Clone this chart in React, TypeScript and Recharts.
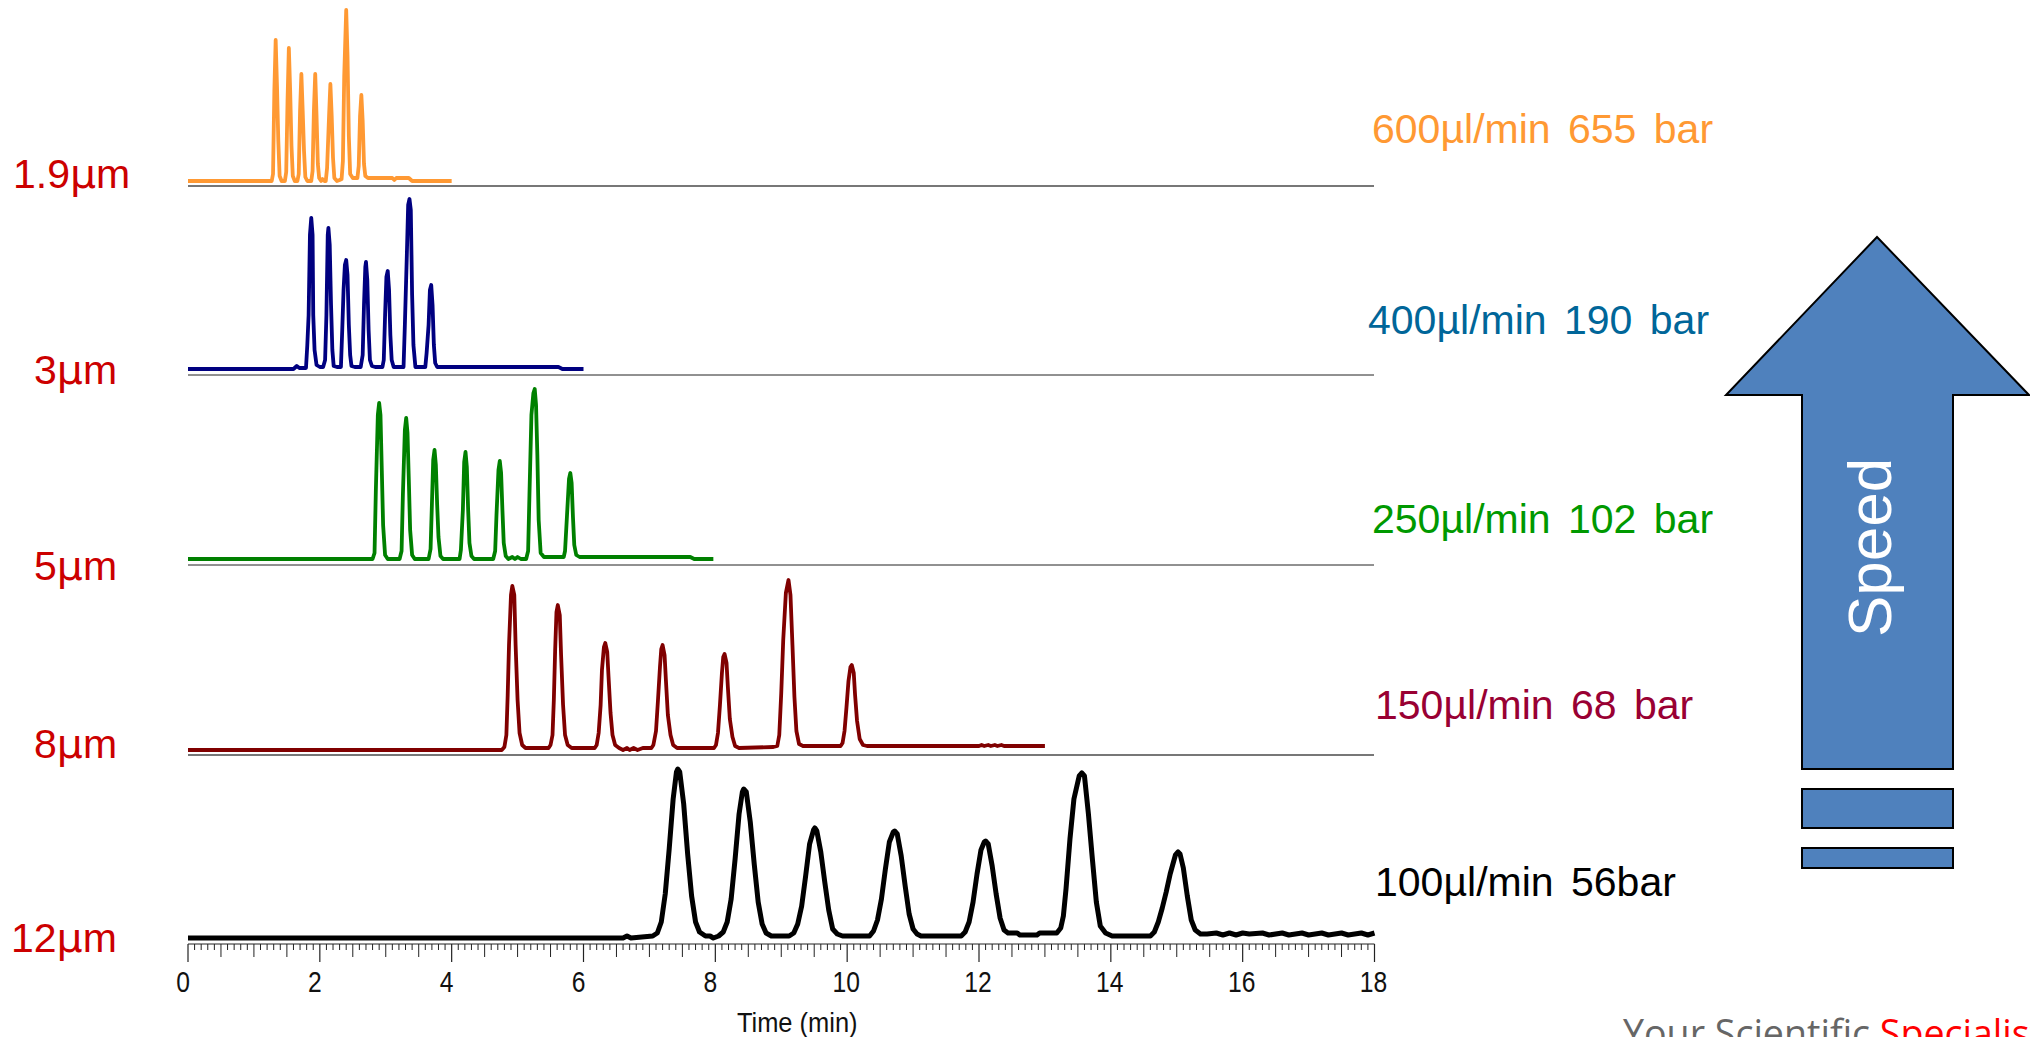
import React from 'react';
import { LineChart, Line, XAxis, YAxis, ReferenceLine, Label } from 'recharts';

// signal = height above the panel floor
const orangeTime = [0, 1.27, 1.29, 1.31, 1.33, 1.35, 1.37, 1.39, 1.42, 1.47, 1.49, 1.51, 1.53, 1.55, 1.57, 1.59, 1.62, 1.66, 1.68, 1.70, 1.72, 1.74, 1.76, 1.78, 1.81, 1.87, 1.89, 1.91, 1.93, 1.95, 1.97, 1.99, 2.02, 2.04, 2.07, 2.09, 2.11, 2.14, 2.16, 2.18, 2.20, 2.22, 2.26, 2.30, 2.33, 2.35, 2.37, 2.40, 2.42, 2.44, 2.46, 2.50, 2.57, 2.59, 2.61, 2.63, 2.65, 2.67, 2.69, 2.73, 3.10, 3.13, 3.16, 3.35, 3.40, 4.0];
const orangeSignal = [5, 5, 12, 95, 146, 100, 45, 10, 5, 5, 14, 85, 138, 95, 40, 10, 5, 5, 12, 75, 112, 75, 35, 9, 5, 5, 15, 75, 112, 70, 22, 8, 5, 7, 5, 5, 18, 70, 102, 70, 28, 8, 5, 6, 7, 25, 110, 176, 130, 50, 12, 8, 8, 20, 70, 91, 65, 22, 10, 8, 8, 6, 8, 8, 5, 5];

const navyTime = [0, 1.6, 1.65, 1.69, 1.79, 1.81, 1.83, 1.85, 1.87, 1.89, 1.90, 1.92, 1.95, 2.0, 2.05, 2.08, 2.10, 2.12, 2.13, 2.15, 2.17, 2.19, 2.21, 2.26, 2.32, 2.34, 2.36, 2.38, 2.40, 2.42, 2.44, 2.46, 2.48, 2.53, 2.62, 2.65, 2.67, 2.69, 2.70, 2.72, 2.74, 2.76, 2.79, 2.84, 2.95, 2.97, 2.99, 3.01, 3.03, 3.05, 3.07, 3.09, 3.12, 3.2, 3.27, 3.29, 3.32, 3.34, 3.36, 3.38, 3.40, 3.42, 3.45, 3.55, 3.60, 3.62, 3.65, 3.67, 3.69, 3.71, 3.73, 3.75, 3.78, 5.62, 5.68, 6.0];
const navySignal = [6, 6, 9, 7, 7, 30, 60, 140, 157, 140, 60, 25, 10, 8, 8, 15, 60, 140, 147, 130, 70, 25, 9, 8, 8, 45, 85, 110, 115, 100, 50, 20, 9, 8, 8, 20, 70, 108, 113, 95, 45, 15, 9, 8, 8, 15, 60, 98, 104, 85, 40, 15, 8, 8, 8, 50, 120, 170, 176, 165, 80, 30, 8, 8, 8, 22, 50, 85, 90, 70, 30, 12, 8, 8, 6, 6];

const greenTime = [0, 2.80, 2.83, 2.85, 2.88, 2.90, 2.92, 2.94, 2.96, 2.99, 3.03, 3.21, 3.24, 3.26, 3.29, 3.31, 3.33, 3.35, 3.37, 3.40, 3.44, 3.65, 3.68, 3.70, 3.72, 3.74, 3.76, 3.78, 3.80, 3.83, 3.87, 4.12, 4.14, 4.17, 4.19, 4.21, 4.23, 4.25, 4.27, 4.30, 4.34, 4.63, 4.66, 4.68, 4.71, 4.73, 4.75, 4.77, 4.79, 4.82, 4.86, 4.92, 4.96, 5.0, 5.05, 5.13, 5.16, 5.18, 5.21, 5.24, 5.26, 5.28, 5.30, 5.32, 5.35, 5.4, 5.70, 5.72, 5.75, 5.78, 5.80, 5.82, 5.84, 5.86, 5.89, 5.94, 7.62, 7.68, 7.97];
const greenSignal = [6, 6, 12, 75, 150, 162, 150, 95, 40, 10, 6, 6, 14, 70, 135, 147, 132, 85, 35, 10, 6, 6, 16, 60, 105, 115, 100, 60, 28, 9, 6, 6, 15, 55, 103, 113, 98, 55, 22, 9, 6, 6, 14, 50, 95, 104, 92, 55, 22, 9, 6, 8, 6, 8, 6, 6, 14, 70, 150, 172, 176, 160, 110, 45, 12, 8, 8, 14, 50, 86, 92, 82, 48, 20, 10, 8, 8, 6, 6];

const maroonTime = [0, 4.76, 4.80, 4.83, 4.85, 4.87, 4.90, 4.92, 4.95, 4.97, 5.00, 5.03, 5.07, 5.12, 5.47, 5.50, 5.53, 5.55, 5.57, 5.59, 5.61, 5.64, 5.66, 5.69, 5.72, 5.76, 5.82, 6.17, 6.20, 6.23, 6.26, 6.28, 6.31, 6.33, 6.36, 6.38, 6.41, 6.44, 6.48, 6.54, 6.60, 6.66, 6.70, 6.76, 6.82, 6.90, 7.03, 7.06, 7.10, 7.13, 7.16, 7.18, 7.20, 7.23, 7.25, 7.28, 7.32, 7.36, 7.42, 7.98, 8.01, 8.04, 8.07, 8.10, 8.12, 8.14, 8.17, 8.19, 8.22, 8.26, 8.30, 8.36, 8.88, 8.94, 8.97, 9.00, 9.03, 9.07, 9.11, 9.14, 9.17, 9.20, 9.23, 9.27, 9.33, 9.90, 9.93, 9.96, 9.99, 10.02, 10.05, 10.07, 10.10, 10.12, 10.15, 10.19, 10.24, 10.30, 12.0, 12.04, 12.08, 12.14, 12.18, 12.24, 12.28, 12.34, 12.38, 13.0];
const maroonSignal = [5, 5, 8, 20, 60, 110, 160, 169, 160, 110, 55, 22, 10, 7, 7, 10, 20, 55, 105, 143, 150, 140, 100, 50, 20, 10, 7, 7, 10, 22, 50, 85, 108, 112, 103, 78, 42, 20, 10, 7, 5, 7, 5, 7, 5, 7, 7, 10, 24, 55, 88, 106, 110, 100, 75, 40, 20, 10, 7, 7, 10, 22, 50, 82, 98, 101, 92, 68, 36, 18, 9, 7, 8, 9, 20, 62, 115, 162, 175, 160, 110, 58, 24, 11, 9, 9, 12, 24, 48, 74, 88, 90, 82, 60, 34, 16, 10, 9, 9, 10, 9, 10, 9, 10, 9, 10, 9, 9];

const blackTime = [0, 6.60, 6.66, 6.72, 7.05, 7.12, 7.18, 7.24, 7.30, 7.36, 7.41, 7.43, 7.46, 7.52, 7.58, 7.64, 7.70, 7.76, 7.85, 7.92, 7.97, 8.05, 8.12, 8.18, 8.24, 8.30, 8.36, 8.41, 8.43, 8.47, 8.53, 8.59, 8.65, 8.71, 8.77, 8.85, 9.12, 9.19, 9.25, 9.31, 9.37, 9.43, 9.49, 9.51, 9.54, 9.60, 9.66, 9.72, 9.78, 9.85, 9.93, 10.34, 10.40, 10.46, 10.52, 10.58, 10.64, 10.70, 10.72, 10.76, 10.82, 10.88, 10.94, 11.00, 11.06, 11.12, 11.73, 11.79, 11.85, 11.91, 11.97, 12.03, 12.08, 12.10, 12.14, 12.20, 12.26, 12.32, 12.38, 12.44, 12.58, 12.62, 12.88, 12.92, 13.18, 13.24, 13.28, 13.32, 13.38, 13.44, 13.52, 13.56, 13.60, 13.66, 13.72, 13.78, 13.84, 13.92, 14.02, 14.60, 14.66, 14.72, 14.78, 14.84, 14.90, 14.98, 15.02, 15.05, 15.10, 15.16, 15.22, 15.28, 15.36, 15.46, 15.6, 15.7, 15.8, 15.9, 16.0, 16.1, 16.3, 16.4, 16.6, 16.7, 16.9, 17.0, 17.2, 17.3, 17.5, 17.6, 17.8, 17.9, 18.0];
const blackSignal = [6, 6, 8, 6, 8, 11, 22, 50, 95, 145, 172, 175, 172, 140, 90, 48, 22, 12, 8, 8, 6, 8, 12, 22, 45, 85, 130, 152, 155, 152, 122, 80, 42, 20, 11, 8, 8, 11, 20, 38, 68, 100, 114, 116, 113, 92, 62, 34, 15, 10, 8, 8, 13, 24, 45, 75, 102, 112, 113, 110, 88, 58, 30, 15, 10, 8, 8, 12, 22, 42, 70, 94, 102, 103, 100, 78, 50, 26, 14, 11, 11, 9, 9, 11, 11, 16, 28, 55, 105, 145, 168, 171, 168, 130, 85, 42, 18, 11, 8, 8, 12, 22, 36, 52, 70, 89, 92, 90, 76, 48, 24, 14, 10, 10, 11, 9, 11, 9, 11, 10, 11, 9, 11, 9, 11, 9, 11, 9, 11, 9, 11, 9, 11];

const majorTicks = [0, 2, 4, 6, 8, 10, 12, 14, 16, 18];
const allTicks = Array.from({ length: 181 }, (_, i) => i / 10);

const beadSizes = ['1.9', '3', '5', '8', '12'];
const flowLabels = ['600µl/min 655 bar', '400µl/min 190 bar', '250µl/min 102 bar', '150µl/min 68 bar', '100µl/min 56bar'];

const zip = (t: number[], s: number[]) => t.map((time, i) => ({ time, signal: s[i] }));

const FONT = '"Liberation Sans", Arial, sans-serif';
const PLOT_LEFT = 187.5;
const PLOT_WIDTH = 1186.5;
const SIDE = 30; // room either side of the plot so the end labels are not clipped

const panels = [
    { top: 0, bottom: 186, data: zip(orangeTime, orangeSignal), color: '#ff9933', floor: '#777777', floorWidth: 2 },
    { top: 186, bottom: 375, data: zip(navyTime, navySignal), color: '#000080', floor: '#222222', floorWidth: 1 },
    { top: 375, bottom: 565, data: zip(greenTime, greenSignal), color: '#008000', floor: '#222222', floorWidth: 1 },
    { top: 565, bottom: 755, data: zip(maroonTime, maroonSignal), color: '#800000', floor: '#777777', floorWidth: 2 },
];

const beadPos = [
    { x: 13, y: 188 },
    { x: 34, y: 384 },
    { x: 34, y: 580 },
    { x: 34, y: 758 },
    { x: 11, y: 952 },
];
const flowPos = [
    { x: 1372, y: 143, c: '#ff9933' },
    { x: 1368, y: 334, c: '#006699' },
    { x: 1372, y: 533, c: '#009900' },
    { x: 1375, y: 719, c: '#990033' },
    { x: 1375, y: 896, c: '#000000' },
];

// minor every 0.1, medium every 0.5, long on the labelled ticks
const TimeTick = (props: any) => {
    const { x, y, payload } = props;
    const v = Math.round(payload.value * 10) / 10;
    const major = majorTicks.includes(v);
    const mid = Math.round(v * 10) % 5 === 0;
    const len = major ? 18 : mid ? 13 : 6;
    // the printed numbers sit a little off their ticks in the original
    const dx = v < 10 ? -5 : -1;
    return (
        <g>
            <line x1={x} x2={x} y1={y} y2={y + len} stroke="#222" strokeWidth={major ? 1.2 : 1} />
            {major && (
                <text
                    transform={`translate(${x + dx},${y + 48}) scale(0.85,1)`}
                    textAnchor="middle"
                    fontFamily={FONT}
                    fontSize={29}
                    fill="#111"
                >
                    {v}
                </text>
            )}
        </g>
    );
};

// chart top sits at 755, so this baseline lands at about 1032 on the page
const TimeLabel = (props: any) => {
    const { viewBox } = props;
    const cx = viewBox.x + viewBox.width / 2 + 16;
    return (
        <text transform={`translate(${cx},277) scale(0.91,1)`} textAnchor="middle" fontFamily={FONT} fontSize={28} fill="#111">
            Time (min)
        </text>
    );
};

export default function App() {
    return (
        <div style={{ position: 'absolute', left: 0, top: 0, width: 2030, height: 1037, overflow: 'hidden', background: '#fff' }}>
            {panels.map((p, i) => (
                <div key={i} style={{ position: 'absolute', left: PLOT_LEFT, top: p.top }}>
                    <LineChart width={PLOT_WIDTH} height={p.bottom - p.top + 2} data={p.data} margin={{ top: 0, right: 0, bottom: 2, left: 0 }}>
                        <XAxis hide dataKey="time" type="number" domain={[0, 18]} />
                        <YAxis hide domain={[0, p.bottom - p.top]} />
                        <ReferenceLine y={0} stroke={p.floor} strokeWidth={p.floorWidth} />
                        <Line dataKey="signal" type="linear" stroke={p.color} strokeWidth={3.8} strokeLinejoin="round" dot={false} isAnimationActive={false} />
                    </LineChart>
                </div>
            ))}

            <div style={{ position: 'absolute', left: PLOT_LEFT - SIDE, top: 755 }}>
                <LineChart width={PLOT_WIDTH + 2 * SIDE} height={282} data={zip(blackTime, blackSignal)} margin={{ top: 0, right: SIDE, bottom: 0, left: SIDE }}>
                    <XAxis
                        dataKey="time"
                        type="number"
                        domain={[0, 18]}
                        ticks={allTicks}
                        interval={0}
                        height={93}
                        tickLine={false}
                        tickSize={0}
                        tickMargin={0}
                        tick={<TimeTick />}
                        axisLine={{ stroke: '#222', strokeWidth: 1 }}
                    >
                        <Label content={<TimeLabel />} />
                    </XAxis>
                    <YAxis hide domain={[0, 189]} />
                    <Line dataKey="signal" type="linear" stroke="#000" strokeWidth={5} strokeLinejoin="round" dot={false} isAnimationActive={false} />
                </LineChart>
            </div>

            <svg width={2030} height={1037} style={{ position: 'absolute', left: 0, top: 0, pointerEvents: 'none' }}>
                {beadSizes.map((t, i) => (
                    <text key={t} x={beadPos[i].x} y={beadPos[i].y} fontFamily={FONT} fontSize={41} fill="#cc0000">
                        {t}
                        <tspan fontFamily='"DejaVu Sans", sans-serif' fontSize={41}>µ</tspan>
                        m
                    </text>
                ))}
                {flowLabels.map((t, i) => (
                    <text key={t} x={flowPos[i].x} y={flowPos[i].y} fontFamily={FONT} fontSize={41} wordSpacing={6} fill={flowPos[i].c}>{t}</text>
                ))}
                <polygon points="1877,237 2029,395 1953,395 1953,769 1802,769 1802,395 1726,395" fill="#4f81bd" stroke="#000" strokeWidth={2} />
                <rect x={1802} y={789} width={151} height={39} fill="#4f81bd" stroke="#000" strokeWidth={2} />
                <rect x={1802} y={848} width={151} height={20} fill="#4f81bd" stroke="#000" strokeWidth={2} />
                <text transform="translate(1891,637) rotate(-90)" fontFamily={FONT} fontSize={62} fill="#fff">Speed</text>
                <text x={1623} y={1047} fontFamily='"Open Sans", sans-serif' fontSize={37.6} fill="#666">
                    Your Scientific <tspan fill="#ff0000">Specialist</tspan>
                </text>
            </svg>
        </div>
    );
}
